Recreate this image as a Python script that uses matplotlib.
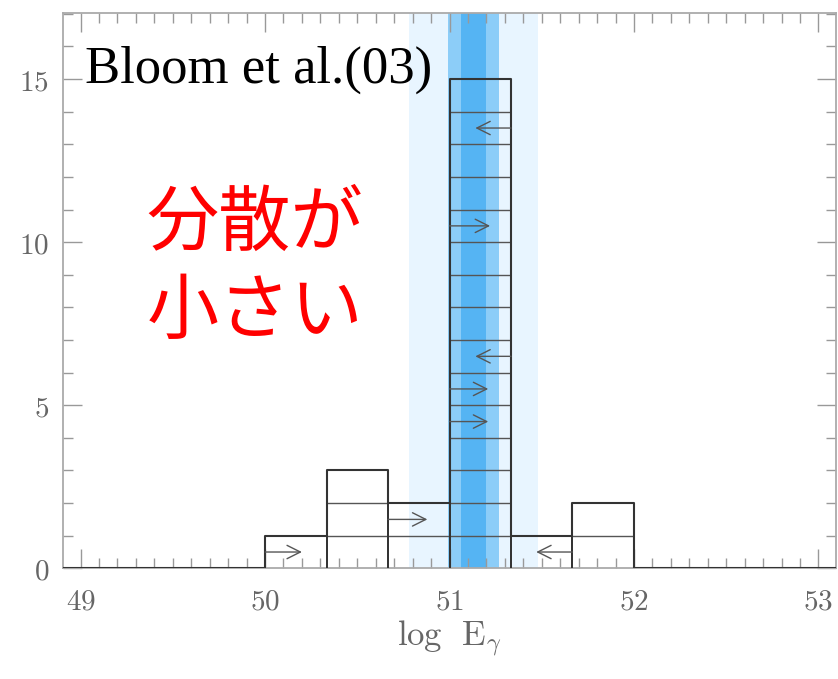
import matplotlib
matplotlib.use("Agg")
from matplotlib import pyplot as plt
from matplotlib.ticker import MultipleLocator, FuncFormatter
import numpy as np

# histogram of log E_gamma, bins 1/3 dex wide
edges = [50.0, 50.0 + 1/3, 50.0 + 2/3, 51.0, 51.0 + 1/3, 51.0 + 2/3, 52.0]
counts = [1, 3, 2, 15, 1, 2]

# limits: (bin index, row, arrow tip x, direction) 1 = lower limit (points right)
limits_bin = [0, 2, 4, 3, 3, 3, 3, 3]
limits_row = [0, 1, 0, 13, 10, 6, 5, 4]
limits_tip = [50.2, 50.88, 51.47, 51.14, 51.22, 51.14, 51.21, 51.21]
limits_dir = [1, 1, -1, -1, 1, -1, 1, 1]

# shaded ranges
band_outer = (50.78, 51.48)
band_mid = (50.99, 51.27)
band_inner = (51.06, 51.20)

plt.rcParams['mathtext.fontset'] = 'cm'

fig = plt.figure(figsize=(8.38, 6.79), dpi=100)
ax = fig.add_axes([0.0752, 0.163, 0.9224, 0.818])

ax.axvspan(*band_outer, color='#e8f5ff', lw=0, zorder=0)
ax.axvspan(*band_mid, color='#8ccdf8', lw=0, zorder=0)
ax.axvspan(*band_inner, color='#55b4f3', lw=0, zorder=0)

# one box per object, stacked
for i, c in enumerate(counts):
    for k in range(1, c):
        ax.hlines(k, edges[i], edges[i + 1], color='#555555', lw=1.0, zorder=2)
    ax.vlines([edges[i], edges[i + 1]], 0, c, color='#333333', lw=1.3, zorder=3)

xs = [48.9] + edges + [53.1]
ys = [0] + counts + [0, 0]
ax.step(xs, ys, where='post', color='#333333', lw=1.5, zorder=3)

for b, r, tip, d in zip(limits_bin, limits_row, limits_tip, limits_dir):
    start = edges[b] if d > 0 else edges[b + 1]
    ax.annotate('', xy=(tip, r + 0.5), xytext=(start, r + 0.5),
                arrowprops=dict(arrowstyle='->', color='#555555', lw=1.0,
                                mutation_scale=24, shrinkA=0, shrinkB=0),
                zorder=4)

ax.set_xlim(48.905, 53.095)
ax.set_ylim(0, 17.03)
ax.xaxis.set_major_locator(MultipleLocator(1))
ax.xaxis.set_minor_locator(MultipleLocator(0.1))
ax.yaxis.set_major_locator(MultipleLocator(5))
ax.yaxis.set_minor_locator(MultipleLocator(1))
cmfmt = FuncFormatter(lambda v, p: '$%d$' % round(v))
ax.xaxis.set_major_formatter(cmfmt)
ax.yaxis.set_major_formatter(cmfmt)
ax.tick_params(which='both', direction='in', top=True, right=True,
               color='#999999', labelcolor='#666666', labelsize=21)
ax.tick_params(which='major', length=14, width=1)
ax.tick_params(which='minor', length=7, width=1)
ax.tick_params(axis='x', pad=14)
ax.tick_params(axis='y', pad=10)
for s in ax.spines.values():
    s.set_color('#aaaaaa')
    s.set_linewidth(1.3)

ax.set_xlabel(r'$\mathrm{log\ \ E}_{\gamma}$', color='#666666', fontsize=25, labelpad=2)

ax.text(0.028, 0.874, 'Bloom et al.(03)', transform=ax.transAxes,
        family='Liberation Serif', fontsize=38, va='baseline', ha='left', zorder=5)
ax.text(0.108, 0.540, '分散が\n小さい', transform=ax.transAxes,
        family=['Noto Sans CJK JP', 'DejaVu Sans'], fontsize=52, color='#ff0000',
        va='center', ha='left', linespacing=1.27, zorder=5)

fig.savefig('out.png', dpi=100)
